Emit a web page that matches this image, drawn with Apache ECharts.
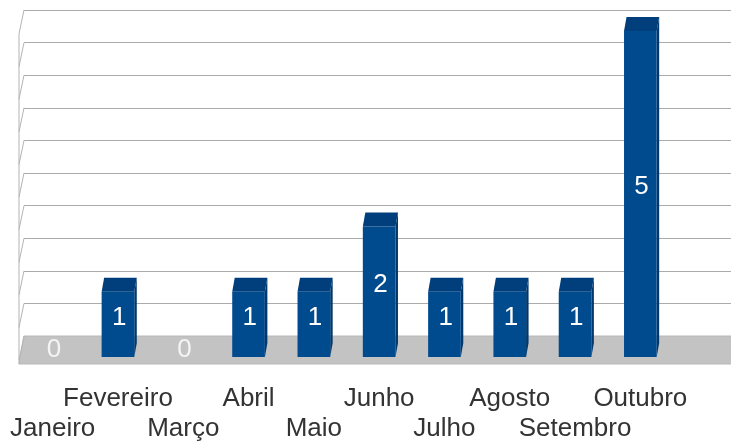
<!DOCTYPE html>
<html>
<head>
<meta charset="utf-8">
<script src="https://cdn.jsdelivr.net/npm/echarts@6/dist/echarts.min.js"></script>
<style>
  html, body { margin: 0; padding: 0; background: #fff; }
  #chart { width: 731px; height: 441px; }
</style>
</head>
<body>
<div id="chart"></div>
<script>
// dados
const meses = ['Janeiro', 'Fevereiro', 'Março', 'Abril', 'Maio', 'Junho', 'Julho', 'Agosto', 'Setembro', 'Outubro'];
const valores = [0, 1, 0, 1, 1, 2, 1, 1, 1, 5];
const eixoMax = 5;
const eixoPasso = 0.5;
const linhasParede = [0, 0.5, 1, 1.5, 2, 2.5, 3, 3.5, 4, 4.5, 5];

// profundidade 3D (px)
const DX = 2.5, DY = 14;      // topo da barra
const PISO = 28;              // fundo -> frente do piso
const LADO = 5;               // parede esquerda

let myChart = echarts.init(document.getElementById('chart'));

let option = {
  animation: false,
  grid: [
    { left: 24, right: 0, top: 10, bottom: 105, outerBoundsMode: 'none' },   // parede do fundo
    { left: 20, right: 58, top: 31, bottom: 84, outerBoundsMode: 'none' }     // barras
  ],
  xAxis: [
    { gridIndex: 0, type: 'value', min: 0, max: 1, show: false },
    {
      gridIndex: 1,
      type: 'category',
      data: meses,
      axisLine: { show: false },
      axisTick: { show: false },
      axisLabel: {
        interval: 0,
        margin: 27,
        fontSize: 26,
        lineHeight: 30,
        color: '#333',
        fontFamily: 'Liberation Sans',
        verticalAlign: 'top',
        formatter: function (v, i) { return i % 2 === 0 ? '\n' + v : v; }
      }
    }
  ],
  yAxis: [
    {
      gridIndex: 0,
      type: 'value',
      min: 0,
      max: eixoMax,
      interval: eixoPasso,
      axisLine: { show: false },
      axisTick: { show: false },
      axisLabel: { show: false },
      splitLine: { show: true, lineStyle: { color: '#ababab', width: 1.2 } }
    },
    { gridIndex: 1, type: 'value', min: 0, max: eixoMax, show: false }
  ],
  series: [
    {
      // piso cinza + aresta frontal da parede esquerda
      type: 'custom',
      xAxisIndex: 0, yAxisIndex: 0,
      silent: true,
      z: 1,
      data: [[0, 0]],
      renderItem: function (params, api) {
        let a = api.coord([0, 0]);
        let b = api.coord([1, 0]);
        let t = api.coord([0, eixoMax]);
        return {
          type: 'group',
          children: [
            {
              type: 'polygon',
              shape: { points: [[a[0], a[1]], [b[0] + 5, b[1]], [b[0] + 5, b[1] + PISO], [a[0] - LADO, a[1] + PISO]] },
              style: { fill: '#c3c3c3', stroke: '#b8b8b8', lineWidth: 1 }
            },
            {
              type: 'line',
              shape: { x1: t[0] - LADO, y1: t[1] + PISO - 4, x2: a[0] - LADO, y2: a[1] + PISO },
              style: { stroke: '#b3b3b3', lineWidth: 1 }
            }
          ]
        };
      }
    },
    {
      // linhas da parede esquerda
      type: 'custom',
      xAxisIndex: 0, yAxisIndex: 0,
      silent: true,
      z: 2,
      data: linhasParede.map(function (v) { return [0, v]; }),
      renderItem: function (params, api) {
        let p = api.coord([0, api.value(1)]);
        return {
          type: 'line',
          shape: { x1: p[0], y1: p[1], x2: p[0] - LADO, y2: p[1] + PISO - 4 },
          style: { stroke: '#b3b3b3', lineWidth: 1 }
        };
      }
    },
    {
      // barras 3D
      type: 'custom',
      xAxisIndex: 1, yAxisIndex: 1,
      z: 3,
      data: valores.map(function (v, i) { return [i, v]; }),
      renderItem: function (params, api) {
        let i = api.value(0), v = api.value(1);
        let base = api.coord([i, 0]);
        let topo = api.coord([i, v]);
        let w = api.size([1, 0])[0] * 0.5;
        let x0 = base[0] - w / 2;
        let kids = [];
        if (v > 0) {
          kids.push({
            type: 'polygon',
            shape: { points: [[x0 + w, topo[1]], [x0 + w + DX, topo[1] - DY], [x0 + w + DX, base[1] - DY], [x0 + w, base[1]]] },
            style: { fill: '#00386c' }
          });
          kids.push({
            type: 'rect',
            shape: { x: x0, y: topo[1], width: w, height: base[1] - topo[1] },
            style: { fill: '#004a8e' }
          });
          kids.push({
            type: 'polygon',
            shape: { points: [[x0, topo[1]], [x0 + w, topo[1]], [x0 + w + DX, topo[1] - DY], [x0 + DX, topo[1] - DY]] },
            style: { fill: '#003f7c' }
          });
        }
        kids.push({
          type: 'text',
          style: {
            x: base[0] + DX / 2,
            y: (topo[1] + base[1]) / 2 - DY / 2,
            text: String(v),
            fill: v > 0 ? '#ffffff' : '#f4f4f4',
            fontSize: 26,
            fontFamily: 'Liberation Sans',
            align: 'center',
            verticalAlign: 'middle'
          }
        });
        return { type: 'group', children: kids };
      }
    }
  ]
};

myChart.setOption(option);
window.addEventListener('resize', function () { myChart.resize(); });
</script>
</body>
</html>
